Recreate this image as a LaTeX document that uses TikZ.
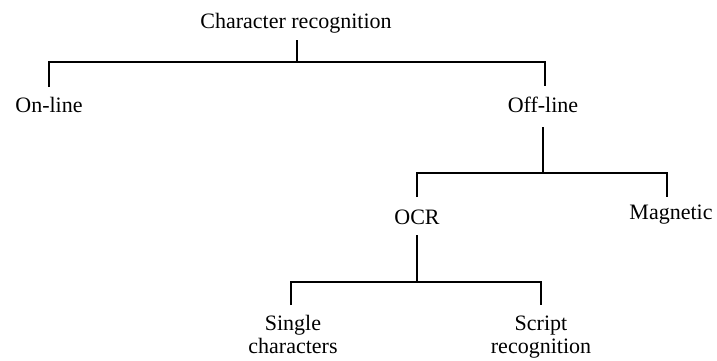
\documentclass[tikz,border=0pt]{standalone}
\usepackage{fontspec}
\setmainfont{Liberation Serif}
\begin{document}
\begin{tikzpicture}[x=1pt,y=-1pt,
  lbl/.style={font=\fontsize{22}{23}\selectfont, inner sep=0pt, anchor=base, align=center},
  conn/.style={line width=1.8pt}]
\useasboundingbox (0,0) rectangle (717,360);
% labels
\node[lbl] (cr)  at (296,28)  {Character recognition};
\node[lbl] (on)  at (49,112)  {On-line};
\node[lbl] (off) at (543,112) {Off-line};
\node[lbl] (ocr) at (417,224) {OCR};
\node[lbl] (mag) at (671,219) {Magnetic};
\node[lbl] (sc)  at (293,353) {Single\\characters};
\node[lbl] (sr)  at (541,353) {Script\\recognition};
% connector ends
\coordinate (cr-s)  at (297,40);
\coordinate (cr-j)  at (297,62);
\coordinate (on-n)  at (49,87);
\coordinate (off-n) at (545,86);
\coordinate (off-s) at (543,127);
\coordinate (off-j) at (543,173);
\coordinate (ocr-n) at (417,197);
\coordinate (mag-n) at (667,197);
\coordinate (ocr-s) at (417,235);
\coordinate (ocr-j) at (417,282);
\coordinate (sc-n)  at (291,305);
\coordinate (sr-n)  at (541,305);
% connectors
\draw[conn] (cr-s) -- (cr-j);
\draw[conn] (on-n) |- (cr-j) -| (off-n);
\draw[conn] (off-s) -- (off-j);
\draw[conn] (ocr-n) |- (off-j) -| (mag-n);
\draw[conn] (ocr-s) -- (ocr-j);
\draw[conn] (sc-n) |- (ocr-j) -| (sr-n);
\end{tikzpicture}
\end{document}
